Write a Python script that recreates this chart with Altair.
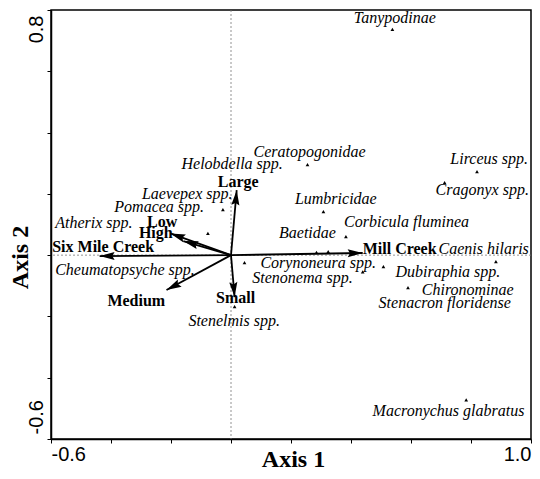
import altair as alt
import pandas as pd

# ---- species scores (triangle markers) ----
point_x = [0.538, 0.255, -0.027, -0.077, 0.045, 0.012, 0.383, 0.324, 0.285,
           0.439, 0.508, 0.590, 0.883, 0.308, 0.820, 0.712, 0.784]
point_y = [0.735, 0.294, 0.147, 0.069, -0.026, -0.170, 0.059, 0.010, 0.007,
           -0.056, -0.039, -0.108, -0.023, 0.140, 0.271, 0.235, -0.474]

# ---- species labels ----
species = ["Tanypodinae", "Ceratopogonidae", "Helobdella spp.", "Laevepex spp.",
           "Pomacea spp.", "Atherix spp.", "Cheumatopsyche spp.", "Stenelmis spp.",
           "Corynoneura spp.", "Stenonema spp.", "Baetidae", "Corbicula fluminea",
           "Lumbricidae", "Lirceus spp.", "Cragonyx spp.", "Caenis hilaris",
           "Dubiraphia spp.", "Chironominae", "Stenacron floridense",
           "Macronychus glabratus"]
species_label_x = [0.409, 0.075, -0.165, -0.297, -0.389, -0.586, -0.586, -0.142,
                   0.098, 0.071, 0.160, 0.377, 0.213, 0.731, 0.682, 0.692,
                   0.548, 0.636, 0.492, 0.472]
species_label_y = [0.758, 0.320, 0.281, 0.183, 0.140, 0.088, -0.065, -0.232,
                   -0.042, -0.091, 0.056, 0.091, 0.167, 0.297, 0.196, 0.003,
                   -0.072, -0.131, -0.172, -0.526]

# ---- environmental vectors ----
env = ["Large", "Low", "High", "Six Mile Creek", "Medium", "Small", "Mill Creek"]
env_x = [0.019, -0.159, -0.202, -0.438, -0.215, 0.012, 0.439]
env_y = [0.212, 0.046, 0.071, -0.003, -0.114, -0.137, 0.007]
env_label_x = [-0.044, -0.280, -0.307, -0.596, -0.412, -0.050, 0.439]
env_label_y = [0.222, 0.091, 0.056, 0.010, -0.167, -0.157, 0.003]

# ---- axes ----
x_ticks = [-0.6, -0.4, -0.2, 0.0, 0.2, 0.4, 0.6, 0.8, 1.0]
y_ticks = [-0.6, -0.4, -0.2, 0.0, 0.2, 0.4, 0.6, 0.8]
x_domain = [-0.6, 1.0]
y_domain = [-0.6, 0.8]

pts = pd.DataFrame({"x": point_x, "y": point_y})
lab = pd.DataFrame({"name": species, "x": species_label_x, "y": species_label_y})
vec = pd.DataFrame({"name": env, "tx": env_x, "ty": env_y,
                    "lx": env_label_x, "ly": env_label_y})
zero = pd.DataFrame({"v": [0.0]})

xs = alt.Scale(domain=x_domain, nice=False, zero=False)
ys = alt.Scale(domain=y_domain, nice=False, zero=False)

x_axis = alt.Axis(
    title="Axis 1", values=x_ticks, grid=False,
    labelExpr="(datum.value == -0.6 || datum.value == 1) ? replace(format(datum.value, '.1f'), '\u2212', '-') : ''",
    labelFlush=True, labelFont="Liberation Sans", labelFontSize=20, labelColor="black",
    labelPadding=1, tickSize=4, tickColor="black", domainColor="black", domainWidth=1.5,
    titleFont="Liberation Serif", titleFontSize=24, titleFontWeight="bold", titleColor="black",
    titleX=242, titleY=27, titleBaseline="alphabetic", titleAlign="center",
)
y_axis = alt.Axis(
    title="Axis 2", values=y_ticks, grid=False,
    labelExpr="(datum.value == -0.6 || datum.value == 0.8) ? replace(format(datum.value, '.1f'), '\u2212', '-') : ''",
    labelAngle=270, labelBaseline="alphabetic",
    labelAlign={"condition": {"test": "datum.value < 0", "value": "left"}, "value": "right"},
    labelOffset={"condition": {"test": "datum.value < 0", "value": -5}, "value": 5},
    labelFont="Liberation Sans", labelFontSize=20, labelColor="black", labelPadding=5,
    tickSize=4, tickColor="black", domainColor="black", domainWidth=1.5,
    titleFont="Liberation Serif", titleFontSize=24, titleFontWeight="bold", titleColor="black",
    titleAngle=270, titleX=-24, titleY=247, titleBaseline="alphabetic", titleAlign="center",
)

vline = alt.Chart(zero).mark_rule(color="#777", strokeDash=[2, 2], strokeWidth=0.8).encode(
    x=alt.X("v:Q", scale=xs, axis=x_axis))
hline = alt.Chart(zero).mark_rule(color="#777", strokeDash=[2, 2], strokeWidth=0.8).encode(
    y=alt.Y("v:Q", scale=ys, axis=y_axis))

shafts = alt.Chart(vec).transform_calculate(x0="0", y0="0").mark_rule(
    color="black", strokeWidth=1.8).encode(
    x=alt.X("x0:Q", scale=xs, axis=x_axis),
    y=alt.Y("y0:Q", scale=ys, axis=y_axis),
    x2="tx:Q", y2="ty:Q")

heads = alt.Chart(vec).transform_calculate(
    ang="(atan2(datum.tx, datum.ty) * 180 / PI + 360) % 360").mark_point(
    shape="M0,0L-0.27,1L0,0.85L0.27,1Z", filled=True, size=900, color="black",
    opacity=1, strokeWidth=0).encode(
    x=alt.X("tx:Q", scale=xs, axis=x_axis),
    y=alt.Y("ty:Q", scale=ys, axis=y_axis),
    angle=alt.Angle("ang:Q", scale=None))

points = alt.Chart(pts).mark_point(shape="triangle", filled=True, size=14,
                                   color="black", opacity=1).encode(
    x=alt.X("x:Q", scale=xs, axis=x_axis),
    y=alt.Y("y:Q", scale=ys, axis=y_axis))

sp_text = alt.Chart(lab).mark_text(align="left", baseline="alphabetic",
                                   font="Liberation Serif", fontStyle="italic",
                                   fontSize=16, color="black").encode(
    x=alt.X("x:Q", scale=xs, axis=x_axis),
    y=alt.Y("y:Q", scale=ys, axis=y_axis),
    text="name:N")

env_text = alt.Chart(vec).mark_text(align="left", baseline="alphabetic",
                                    font="Liberation Serif", fontWeight="bold",
                                    fontSize=16, color="black").encode(
    x=alt.X("lx:Q", scale=xs, axis=x_axis),
    y=alt.Y("ly:Q", scale=ys, axis=y_axis),
    text="name:N")

chart = alt.layer(vline, hline, shafts, heads, points, sp_text, env_text).properties(
    width=480, height=429,
    autosize=alt.AutoSizeParams(type="none"),
    padding={"left": 43, "top": 2, "right": 1, "bottom": 32},
    background="white",
).configure_view(stroke="black", strokeWidth=1.5)

chart.save("out.html", embed_options={"renderer": "svg", "actions": False})
